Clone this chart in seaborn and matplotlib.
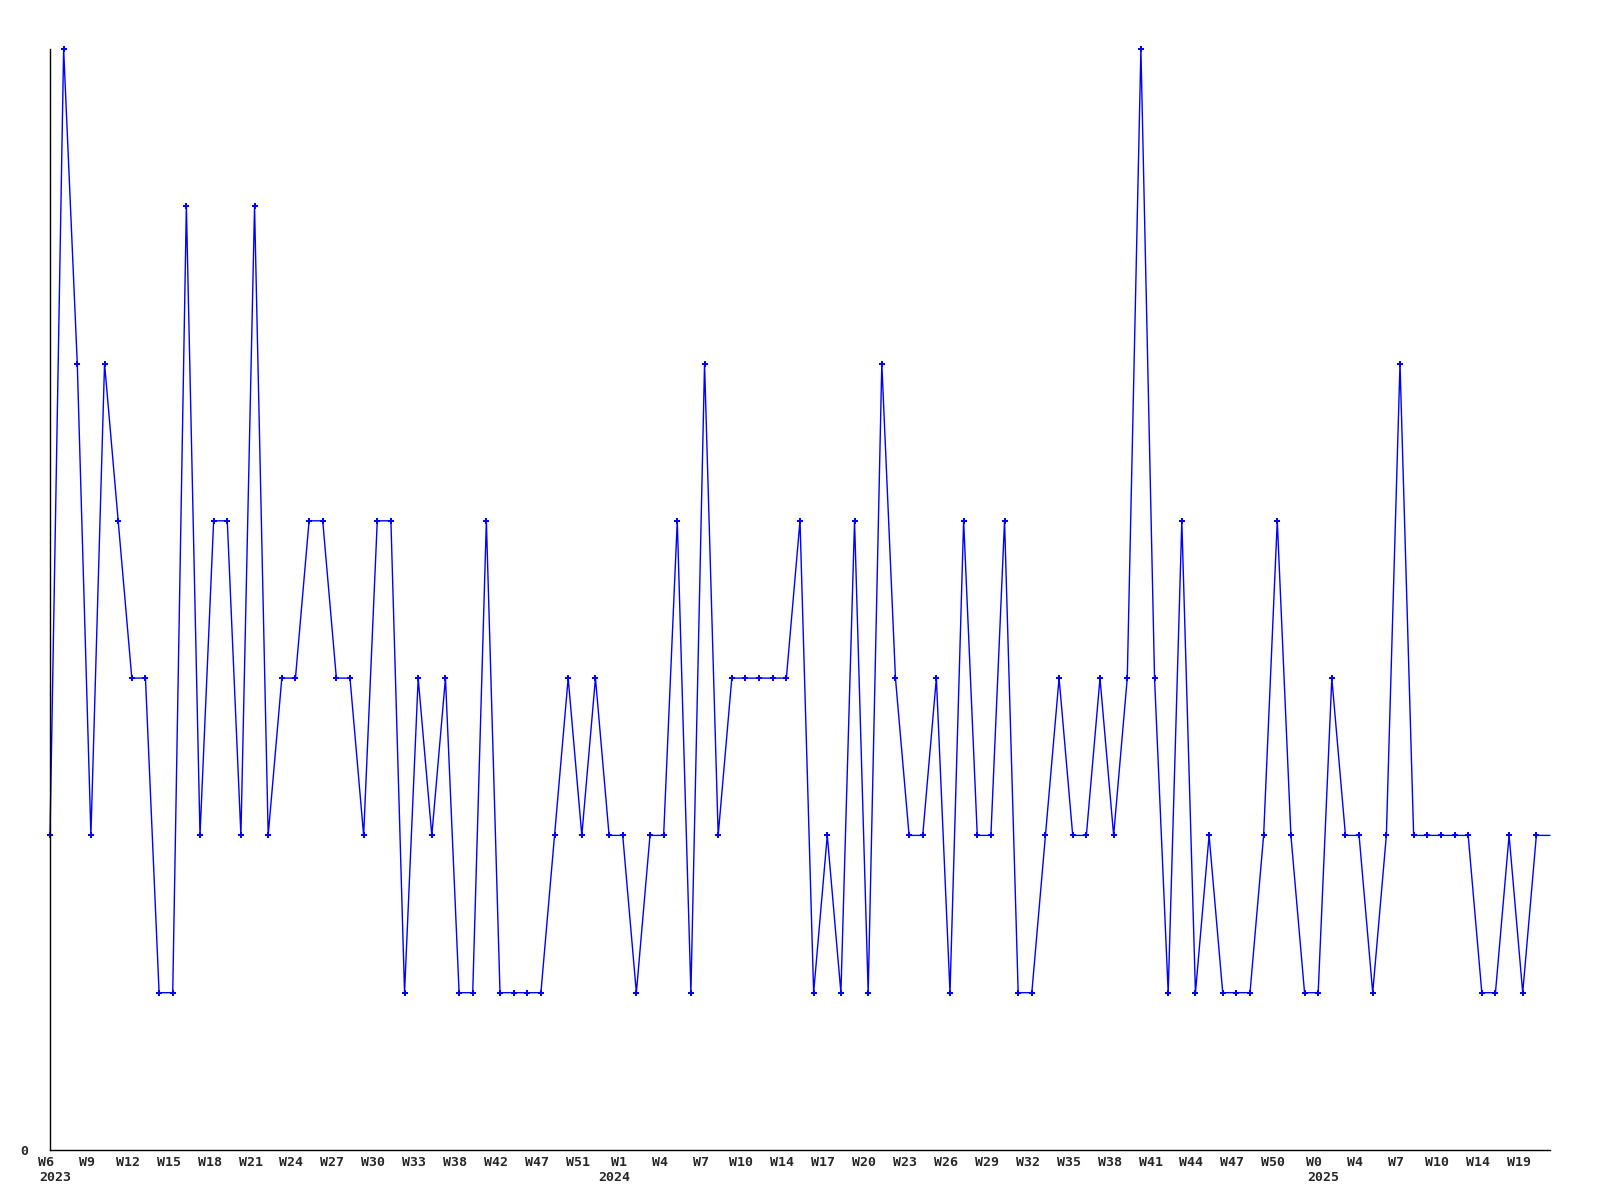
import matplotlib
matplotlib.use("Agg")
import matplotlib.pyplot as plt
import matplotlib.transforms as mtransforms
import seaborn as sns
import pandas as pd
import numpy as np

# weekly counts
counts = [2, 7, 5, 2, 5, 4, 3, 3, 1, 1,
          6, 2, 4, 4, 2, 6, 2, 3, 3, 4,
          4, 3, 3, 2, 4, 4, 1, 3, 2, 3,
          1, 1, 4, 1, 1, 1, 1, 2, 3, 2,
          3, 2, 2, 1, 2, 2, 4, 1, 5, 2,
          3, 3, 3, 3, 3, 4, 1, 2, 1, 4,
          1, 5, 3, 2, 2, 3, 1, 4, 2, 2,
          4, 1, 1, 2, 3, 2, 2, 3, 2, 3,
          7, 3, 1, 4, 1, 2, 1, 1, 1, 2,
          4, 2, 1, 1, 3, 2, 2, 1, 2, 5,
          2, 2, 2, 2, 2, 1, 1, 2, 1, 2,
          2]

# x tick labels, every third week
week_labels = ["W6", "W9", "W12", "W15", "W18", "W21", "W24", "W27", "W30",
               "W33", "W38", "W42", "W47", "W51",
               "W1", "W4", "W7", "W10", "W14", "W17", "W20", "W23", "W26",
               "W29", "W32", "W35", "W38", "W41", "W44", "W47", "W50",
               "W0", "W4", "W7", "W10", "W14", "W19"]
year_labels = ["2023", "2024", "2025"]
year_ticks = [0, 14, 31]  # tick number under which each year sits

df = pd.DataFrame({"idx": np.arange(len(counts)), "count": counts})

sns.set_style("white")
plt.rcParams["font.family"] = ["DejaVu Sans Mono"]

fig = plt.figure(figsize=(16, 12), dpi=100)
ax = fig.add_axes([0.03125, 0.0417, 0.9375, 0.9175])

sns.lineplot(data=df, x="idx", y="count", ax=ax, color="#0000ff",
             linewidth=1.0, marker="P", markersize=4.5, markeredgewidth=0,
             markevery=slice(0, len(counts) - 1), clip_on=False)

ax.set_xlim(0, len(counts) - 1)
ax.set_ylim(0, 7)

tick_pos = np.arange(len(week_labels)) * 3
ax.set_xticks(tick_pos)
ax.set_xticklabels(week_labels, fontsize=9.5, fontweight="bold")
ax.set_yticks([0])
ax.set_yticklabels(["0"], fontsize=9.5, fontweight="bold")
ax.tick_params(axis="x", length=0, pad=4)
ax.tick_params(axis="y", length=0, pad=16)

# labels sit a little left of their ticks in the original
shift = mtransforms.ScaledTranslation(-4 / 100, 0, fig.dpi_scale_trans)
for lab in ax.get_xticklabels():
    lab.set_transform(lab.get_transform() + shift)

year_shift = [-11, -24, -11]
for yr, t, dx in zip(year_labels, year_ticks, year_shift):
    tr = ax.get_xaxis_transform() + mtransforms.ScaledTranslation(
        dx / 100, 0, fig.dpi_scale_trans)
    ax.text(tick_pos[t], -0.0195, yr, transform=tr,
            ha="left", va="top", fontsize=9.5, fontweight="bold")

ax.set_xlabel("")
ax.set_ylabel("")
for s in ["top", "right"]:
    ax.spines[s].set_visible(False)
for s in ["left", "bottom"]:
    ax.spines[s].set_color("black")
    ax.spines[s].set_linewidth(1.0)

fig.savefig("out.png", dpi=100)
